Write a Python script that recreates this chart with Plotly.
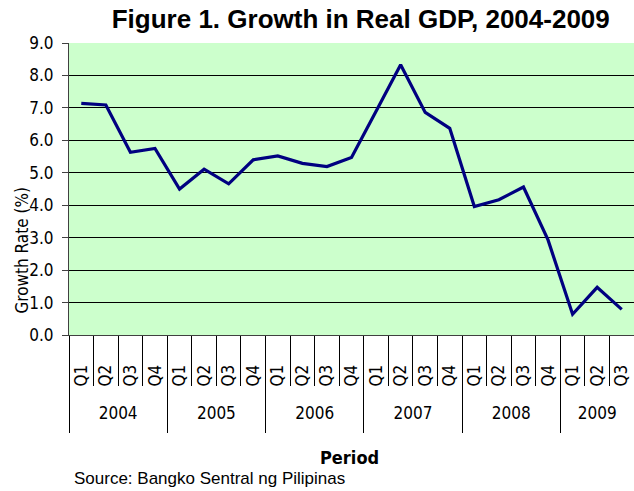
import plotly.graph_objects as go

# Périodes (année, trimestre) et croissance du PIB réel (%)
annees = ["2004", "2004", "2004", "2004",
          "2005", "2005", "2005", "2005",
          "2006", "2006", "2006", "2006",
          "2007", "2007", "2007", "2007",
          "2008", "2008", "2008", "2008",
          "2009", "2009", "2009"]
trimestres = ["Q1", "Q2", "Q3", "Q4",
              "Q1", "Q2", "Q3", "Q4",
              "Q1", "Q2", "Q3", "Q4",
              "Q1", "Q2", "Q3", "Q4",
              "Q1", "Q2", "Q3", "Q4",
              "Q1", "Q2", "Q3"]
croissance = [7.14, 7.09, 5.63, 5.75,
              4.50, 5.11, 4.66, 5.40,
              5.52, 5.29, 5.19, 5.47,
              6.90, 8.33, 6.86, 6.37,
              3.96, 4.17, 4.56, 2.93,
              0.64, 1.47, 0.79]

y_ticks = [0, 1, 2, 3, 4, 5, 6, 7, 8, 9]

narrow = "Liberation Sans Narrow, Arial Narrow, DejaVu Sans Condensed, sans-serif"
arial = "Liberation Sans, Arial, sans-serif"

n = len(croissance)
positions = list(range(n))
# séparations entre trimestres
limites = [i - 0.5 for i in range(n + 1)]

# centre et limites de chaque année
liste_annees = []
for a in annees:
    if a not in liste_annees:
        liste_annees.append(a)
centres_annees = []
limites_annees = [-0.5]
for a in liste_annees:
    idx = [i for i, v in enumerate(annees) if v == a]
    centres_annees.append(sum(idx) / len(idx))
    limites_annees.append(idx[-1] + 0.5)

fig = go.Figure()
fig.add_trace(go.Scatter(x=positions, y=croissance, mode="lines",
                         line=dict(color="#000080", width=3.2),
                         customdata=list(zip(annees, trimestres)),
                         hovertemplate="%{customdata[0]} %{customdata[1]}: %{y:.1f}<extra></extra>"))
# trace invisible pour l'axe des années
fig.add_trace(go.Scatter(x=positions, y=croissance, xaxis="x2", mode="lines",
                         opacity=0, hoverinfo="skip", showlegend=False))

fig.update_layout(
    width=634, height=491,
    margin=dict(l=69, r=0, t=43, b=156, autoexpand=False),
    paper_bgcolor="white",
    plot_bgcolor="#CCFFCC",
    showlegend=False,
    title=dict(text="<b>Figure 1. Growth in Real GDP, 2004-2009</b>",
               x=0.569, xanchor="center", y=0.961, yanchor="middle",
               font=dict(family=arial, size=26, color="black")),
    xaxis=dict(
        automargin=False,
        range=[-0.5, n - 0.5],
        tickvals=positions, ticktext=trimestres,
        tickangle=-90,
        ticks="",
        ticklabelstandoff=22,
        tickfont=dict(family=narrow, size=17, color="black"),
        minor=dict(tickvals=limites, ticks="outside", ticklen=50,
                   tickwidth=1, tickcolor="black", showgrid=False),
        showgrid=False, zeroline=False,
        showline=True, linecolor="#404040", linewidth=1,
    ),
    xaxis2=dict(
        overlaying="x", anchor="y", side="bottom", automargin=False,
        range=[-0.5, n - 0.5],
        tickvals=centres_annees, ticktext=liste_annees,
        ticks="",
        ticklabelstandoff=66,
        tickfont=dict(family=narrow, size=17, color="black"),
        minor=dict(tickvals=limites_annees, ticks="outside", ticklen=97,
                   tickwidth=1, tickcolor="black", showgrid=False),
        showgrid=False, zeroline=False, showline=False,
    ),
    yaxis=dict(
        automargin=False,
        range=[0, 9],
        tickvals=y_ticks,
        tickformat=".1f",
        showgrid=True, gridcolor="black", gridwidth=1,
        showline=True, linecolor="#404040", linewidth=1,
        ticks="outside", ticklen=6, tickcolor="#404040",
        ticklabelstandoff=5,
        tickfont=dict(family=narrow, size=17, color="black"),
        zeroline=False,
    ),
)

fig.add_annotation(text="Growth Rate (%)", textangle=-90,
                   xref="paper", yref="paper", x=-0.084, y=0.291,
                   xanchor="center", yanchor="middle", showarrow=False,
                   font=dict(family=narrow, size=17, color="black"))
fig.add_annotation(text="<b>Period</b>",
                   xref="paper", yref="paper", x=0.497, y=-0.421,
                   xanchor="center", yanchor="middle", showarrow=False,
                   font=dict(family=narrow, size=18, color="black"))
fig.add_annotation(text="Source: Bangko Sentral ng Pilipinas",
                   xref="paper", yref="paper", x=0.0048, y=-0.493,
                   xanchor="left", yanchor="middle", showarrow=False,
                   font=dict(family=arial, size=17, color="black"))

fig.write_html("out.html", config={"displayModeBar": False},
               post_script="document.body.style.margin='0px';")
